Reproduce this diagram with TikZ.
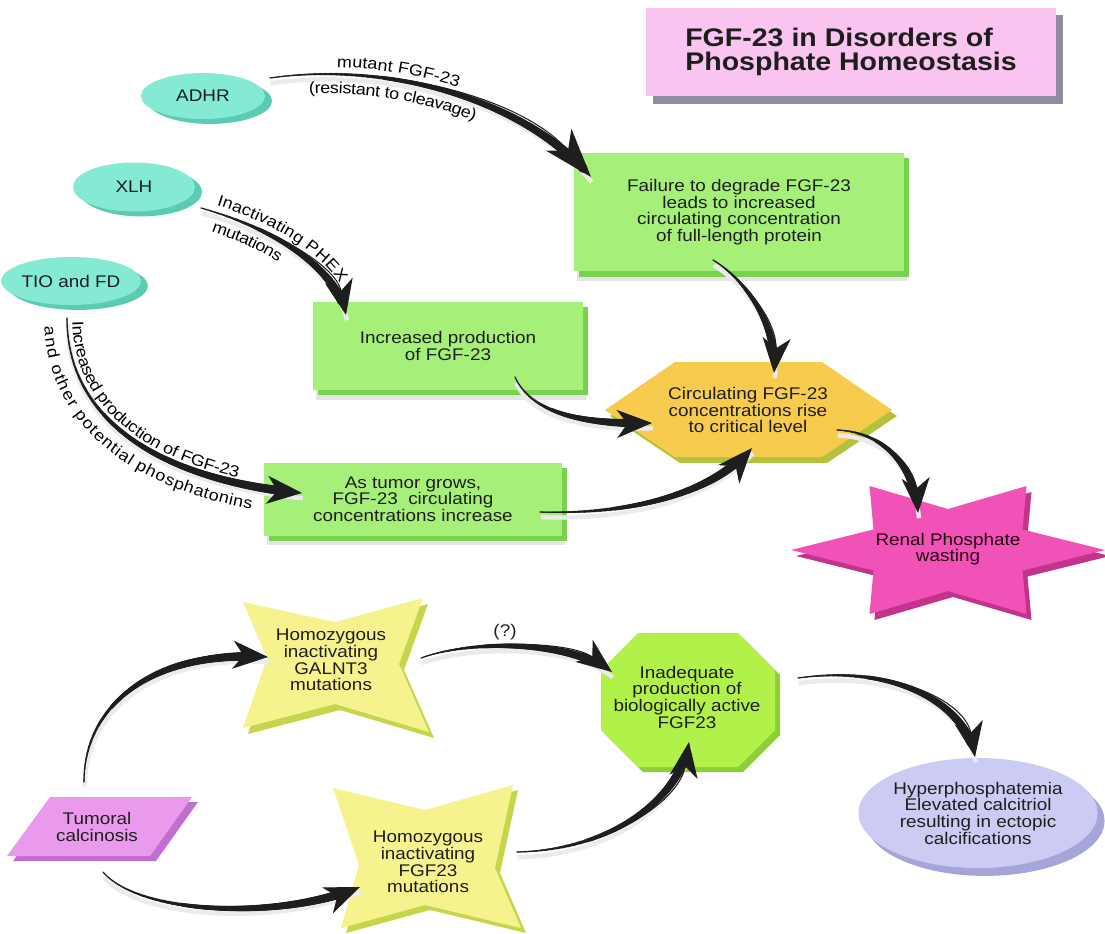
\documentclass[tikz,border=0pt]{standalone}
\usepackage{fontspec}
\setsansfont{Liberation Sans}[FakeStretch=1.12]
\usetikzlibrary{shapes.geometric,shadows,arrows.meta,decorations.markings,decorations.text}

\definecolor{ink}{HTML}{1E1E1E}
\definecolor{titlepink}{HTML}{FAC4F0}
\definecolor{titleshadow}{HTML}{8E8E9E}
\definecolor{tealface}{HTML}{84EAD4}
\definecolor{tealedge}{HTML}{5CCBB3}
\definecolor{boxgreen}{HTML}{A6F07A}
\definecolor{boxgreenedge}{HTML}{78D24E}
\definecolor{hexface}{HTML}{F7CB4D}
\definecolor{hexedge}{HTML}{B3C23C}
\definecolor{starpink}{HTML}{F152B8}
\definecolor{starpinkedge}{HTML}{C2338C}
\definecolor{staryellow}{HTML}{F6F38E}
\definecolor{staryellowedge}{HTML}{C6D64C}
\definecolor{octface}{HTML}{B2F04A}
\definecolor{octedge}{HTML}{8CCF38}
\definecolor{lavface}{HTML}{CBCBF3}
\definecolor{lavedge}{HTML}{A5A5DA}
\definecolor{violetface}{HTML}{E99AEC}
\definecolor{violetedge}{HTML}{C06FD0}

\newcommand{\arclabelfont}{\sffamily\fontsize{9.1}{9}\selectfont}

\begin{document}
\begin{tikzpicture}[x=0.02cm, y=-0.02cm,
  txt/.style={font=\sffamily\fontsize{9.6}{9.5}\selectfont, text=ink, align=center, inner sep=0pt},
  titlebox/.style={rectangle, fill=titlepink, minimum width=8.2cm, minimum height=1.78cm,
    align=left, text=ink, inner sep=0pt,
    font=\sffamily\bfseries\fontsize{14.5}{13.5}\selectfont,
    general shadow={fill=titleshadow, shadow xshift=4pt, shadow yshift=-4pt}},
  greenbox/.style={txt, rectangle, fill=boxgreen,
    general shadow={fill=black!10, shadow xshift=1.5pt, shadow yshift=-5.5pt},
    general shadow={fill=boxgreenedge, shadow xshift=3pt, shadow yshift=-3pt}},
  tealoval/.style={txt, ellipse, fill=tealface,
    general shadow={fill=tealedge, shadow xshift=4pt, shadow yshift=-2.8pt}},
  lavoval/.style={txt, ellipse, fill=lavface,
    general shadow={fill=lavedge, shadow xshift=4pt, shadow yshift=-4.5pt}},
  flow/.style={draw=ink, line width=0.6pt, -{Stealth[length=20pt,width=16pt,inset=6pt]},
    preaction={draw=black!8, line width=2.5pt, -, transform canvas={shift={(0.5pt,-3pt)}}},
    postaction={decorate, decoration={markings,
      mark=between positions 0 and -8pt step 0.7pt with {\fill[ink] (0,0) circle
        [radius={0.35pt+2.4pt*(\pgfkeysvalueof{/pgf/decoration/mark info/distance from start})/(\pgfdecoratedpathlength)}];}}}},
  bigtip/.style={-{Stealth[length=28pt,width=19pt,inset=8pt]}},
  arclabel/.style n args={3}{postaction={decorate, decoration={text along path, raise=#1,
    text align={left, left indent=#2}, text={|\arclabelfont|#3}}}}
]
\useasboundingbox (0,0) rectangle (1105,933);

% ---------- title ----------
\node[titlebox] (title) at (851,52) {FGF-23 in Disorders of\\Phosphate Homeostasis};

% ---------- disorders (ovals) ----------
\node[tealoval, minimum width=2.48cm, minimum height=0.92cm] (adhr) at (203,96) {ADHR};
\node[tealoval, minimum width=2.44cm, minimum height=0.98cm] (xlh) at (134,187) {XLH};
\node[tealoval, minimum width=2.54cm, minimum height=0.96cm] (tio) at (71,281) {TIO and FD};

% ---------- mechanism boxes ----------
\node[greenbox, minimum width=6.6cm, minimum height=2.38cm] (fail) at (739,212)
  {Failure to degrade FGF-23\\leads to increased\\circulating concentration\\of full-length protein};
\node[greenbox, minimum width=5.4cm, minimum height=1.76cm] (prod) at (448,346)
  {Increased production\\of FGF-23};
\node[greenbox, minimum width=5.96cm, minimum height=1.46cm] (tumor) at (413,499)
  {As tumor grows,\\FGF-23~ circulating\\concentrations increase};

% ---------- hexagon: critical level ----------
\begin{scope}[shift={(748,410)}]
  \fill[hexedge, shift={(5,6)}] (-143,0) -- (-73,-48) -- (74,-48) -- (144,0) -- (74,47) -- (-73,47) -- cycle;
  \fill[hexface] (-143,0) -- (-73,-48) -- (74,-48) -- (144,0) -- (74,47) -- (-73,47) -- cycle;
\end{scope}
\node[txt] (crit) at (748,410) {Circulating FGF-23\\concentrations rise\\to critical level};

% ---------- six-pointed star: renal wasting ----------
\begin{scope}[shift={(948,550)}]
  \fill[starpinkedge, shift={(5,6)}] (157,0) -- (74.5,20.5) -- (78.5,64) -- (0,41) -- (-78.5,64) -- (-74.5,20.5)
    -- (-157,0) -- (-74.5,-20.5) -- (-78.5,-64) -- (0,-41) -- (78.5,-64) -- (74.5,-20.5) -- cycle;
  \fill[starpink] (157,0) -- (74.5,20.5) -- (78.5,64) -- (0,41) -- (-78.5,64) -- (-74.5,20.5)
    -- (-157,0) -- (-74.5,-20.5) -- (-78.5,-64) -- (0,-41) -- (78.5,-64) -- (74.5,-20.5) -- cycle;
\end{scope}
\node[txt, text=black!80!purple] (renal) at (948,549) {Renal Phosphate\\wasting};

% ---------- tumoral calcinosis branch ----------
\fill[violetedge, shift={(6,5)}] (50,797) -- (192,797) -- (150,856) -- (7,856) -- cycle;
\fill[violetface] (50,797) -- (192,797) -- (150,856) -- (7,856) -- cycle;
\node[txt] (tc) at (97,827) {Tumoral\\calcinosis};

\begin{scope}[shift={(335,662)}]
  \fill[staryellowedge, shift={(5,6)}] (-92,-60) -- (0,-40) -- (88,-64) -- (64,2) -- (94,70) -- (0,42) -- (-92,66) -- (-68,-4) -- cycle;
  \fill[staryellow] (-92,-60) -- (0,-40) -- (88,-64) -- (64,2) -- (94,70) -- (0,42) -- (-92,66) -- (-68,-4) -- cycle;
\end{scope}
\node[txt] (galnt) at (331,660) {Homozygous\\inactivating\\GALNT3\\mutations};

\begin{scope}[shift={(425,860)}]
  \fill[staryellowedge, shift={(5,5)}] (-92,-72) -- (0,-50) -- (88,-75) -- (70,8) -- (96,68) -- (0,45) -- (-84,68) -- (-66,5) -- cycle;
  \fill[staryellow] (-92,-72) -- (0,-50) -- (88,-75) -- (70,8) -- (96,68) -- (0,45) -- (-84,68) -- (-66,5) -- cycle;
\end{scope}
\node[txt] (fgfmut) at (428,862) {Homozygous\\inactivating\\FGF23\\mutations};

\begin{scope}[shift={(688,700)}]
  \fill[octedge, shift={(5,5)}] (-50,-67) -- (50,-67) -- (87,-30) -- (87,30) -- (50,67) -- (-50,67) -- (-87,30) -- (-87,-30) -- cycle;
  \fill[octface] (-50,-67) -- (50,-67) -- (87,-30) -- (87,30) -- (50,67) -- (-50,67) -- (-87,30) -- (-87,-30) -- cycle;
\end{scope}
\node[txt] (inad) at (687,697) {Inadequate\\production of\\biologically active\\FGF23};

\node[lavoval, minimum width=4.7cm, minimum height=2.2cm] (hyper) at (978,813)
  {Hyperphosphatemia\\Elevated calcitriol\\resulting in ectopic\\calcifications};

\node[txt] (q) at (505,632) {(?)};

% ---------- connectors ----------
\draw[flow, bigtip,
  arclabel={4pt}{38pt}{mutant FGF-23},
  arclabel={-11pt}{22pt}{(resistant to cleavage)}]
  ([shift={(67,-18)}]adhr.center) .. controls (380,62) and (520,95) .. ([shift={(-148,-35)}]fail.center);

\draw[flow,
  arclabel={4pt}{8pt}{Inactivating PHEX},
  arclabel={-11pt}{10pt}{mutations}]
  ([shift={(67,21)}]xlh.center) .. controls (262,225) and (335,262) .. ([shift={(-102,-31)}]prod.center);

\draw[flow,
  arclabel={3pt}{2pt}{Increased production of FGF-23},
  arclabel={-13pt}{4pt}{and other potential phosphatonins}]
  ([shift={(-4,37)}]tio.center) .. controls (67,420) and (160,480) .. ([shift={(-111,-6)}]tumor.center);

\draw[flow] ([shift={(-26,48)}]fail.center) .. controls (740,276) and (778,320) .. ([shift={(26,-37)}]crit.center);
\draw[flow] ([shift={(67,31)}]prod.center) .. controls (530,410) and (575,425) .. ([shift={(-96,13)}]crit.center);
\draw[flow] ([shift={(127,13)}]tumor.center) .. controls (640,515) and (715,490) .. ([shift={(4,38)}]crit.center);
\draw[flow] ([shift={(89,20)}]crit.center) .. controls (885,432) and (915,468) .. ([shift={(-30,-36)}]renal.center);

\draw[flow] ([shift={(-13,-45)}]tc.center) .. controls (84,700) and (160,650) .. ([shift={(-63,-3)}]galnt.center);
\draw[flow] ([shift={(6,45)}]tc.center) .. controls (140,915) and (280,920) .. ([shift={(-68,25)}]fgfmut.center);
\draw[flow] ([shift={(90,-2)}]galnt.center) .. controls (470,640) and (570,640) .. ([shift={(-75,-25)}]inad.center);
\draw[flow] ([shift={(89,-10)}]fgfmut.center) .. controls (610,850) and (680,800) .. ([shift={(2,45)}]inad.center);
\draw[flow] ([shift={(111,-19)}]inad.center) .. controls (890,665) and (965,700) .. ([shift={(-3,-56)}]hyper.center);
\end{tikzpicture}
\end{document}
